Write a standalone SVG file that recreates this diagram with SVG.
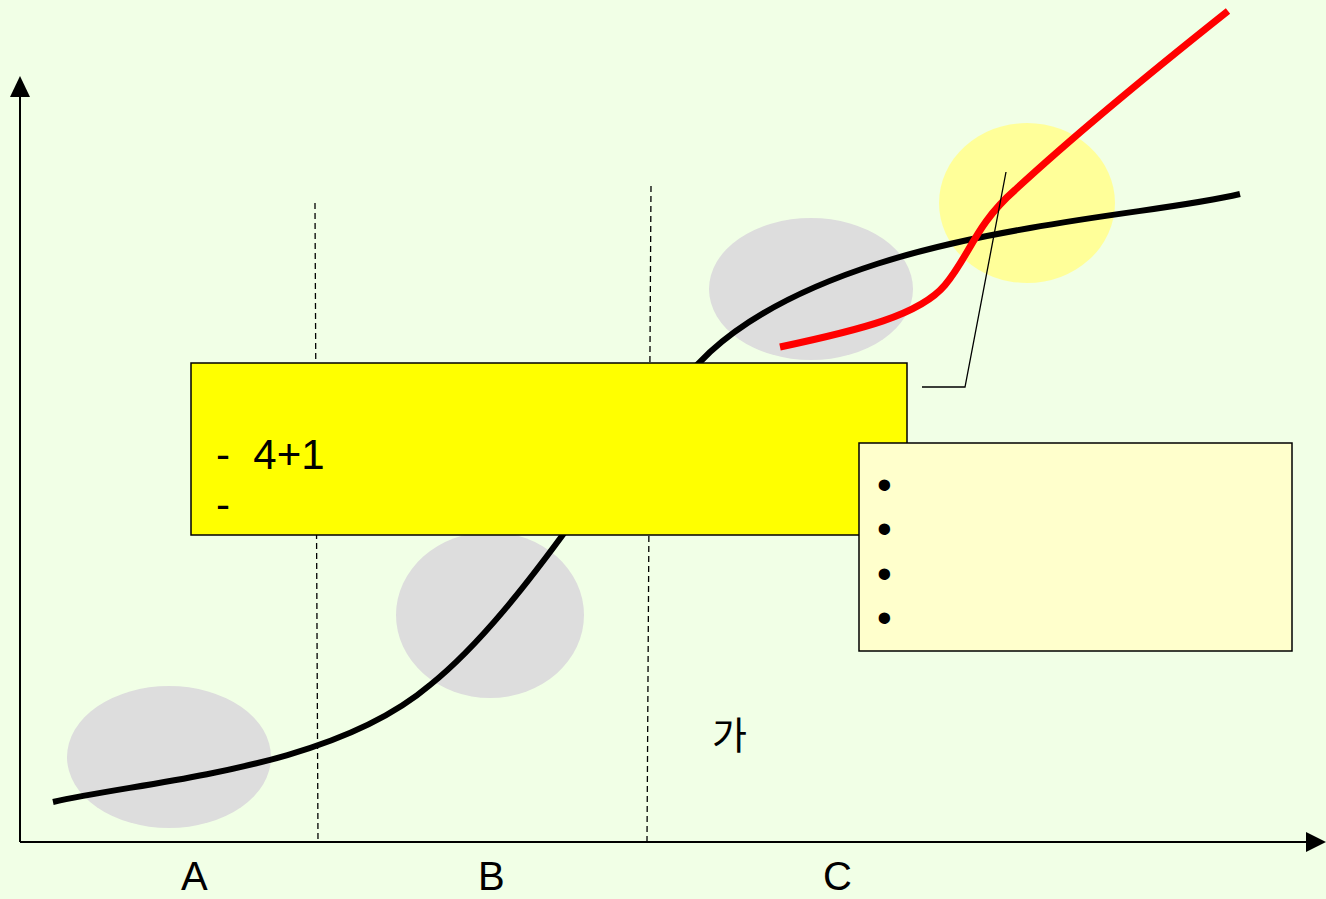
<svg xmlns="http://www.w3.org/2000/svg" width="1326" height="899" viewBox="0 0 1326 899">
<defs>
<style>
.t{font-family:"Liberation Sans",Arial,"Noto Sans CJK KR",sans-serif;fill:#000}
.dash{stroke:#000;stroke-width:1.3;stroke-dasharray:6,4;fill:none}
.blob{fill:#DDDDDD}
</style>
</defs>
<rect width="1326" height="899" fill="#F1FFE6"/>
<g id="blobs">
<ellipse class="blob" cx="169" cy="757" rx="102" ry="71"/>
<ellipse class="blob" cx="490" cy="615" rx="94" ry="83"/>
<ellipse class="blob" cx="811" cy="289" rx="102" ry="71"/>
<ellipse cx="1027" cy="203" rx="88" ry="80" fill="#FFFF99"/>
</g>
<g id="axes">
<line x1="20" y1="842" x2="20" y2="96" stroke="#000" stroke-width="2"/>
<path d="M10,97 L20,76 L30,97 Z" fill="#000"/>
<line x1="20" y1="842" x2="1306" y2="842" stroke="#000" stroke-width="2"/>
<path d="M1306,832 L1326,842 L1306,852 Z" fill="#000"/>
<line class="dash" x1="315" y1="203" x2="318" y2="842"/>
<line class="dash" x1="651" y1="186" x2="647" y2="842"/>
</g>
<g id="connectors">
<path d="M53,802 C150,780 330,770 430,685 C480,645 530,580 570,525 C620,460 660,400 710,352 C800,270 960,240 1030,228 C1120,212 1190,206 1240,194" fill="none" stroke="#000" stroke-width="6"/>
<path d="M780,347 C860,330 920,315 945,285 C970,255 975,225 1015,190 C1080,130 1160,65 1228,11" fill="none" stroke="#FF0000" stroke-width="7"/>
<polyline points="922,387 965,387 1006,172" fill="none" stroke="#000" stroke-width="1.3"/>
</g>
<g id="box1">
<rect x="191" y="363" width="716" height="172" fill="#FFFF00" stroke="#000" stroke-width="1.5"/>
<text class="t" x="216" y="469" font-size="42" xml:space="preserve">-  4+1</text>
<text class="t" x="216" y="519" font-size="42">-</text>
</g>
<g id="box2">
<rect x="859" y="443" width="433" height="208" fill="#FFFFCC" stroke="#000" stroke-width="1.5"/>
<text class="t" x="877" y="499" font-size="42">•</text>
<text class="t" x="877" y="543" font-size="42">•</text>
<text class="t" x="877" y="588" font-size="42">•</text>
<text class="t" x="877" y="632" font-size="42">•</text>
</g>
<g id="labels">
<text class="t" x="712" y="749" font-size="38">가</text>
<text class="t" x="181" y="890" font-size="40">A</text>
<text class="t" x="478" y="890" font-size="40">B</text>
<text class="t" x="823" y="890" font-size="40">C</text>
</g>
</svg>
